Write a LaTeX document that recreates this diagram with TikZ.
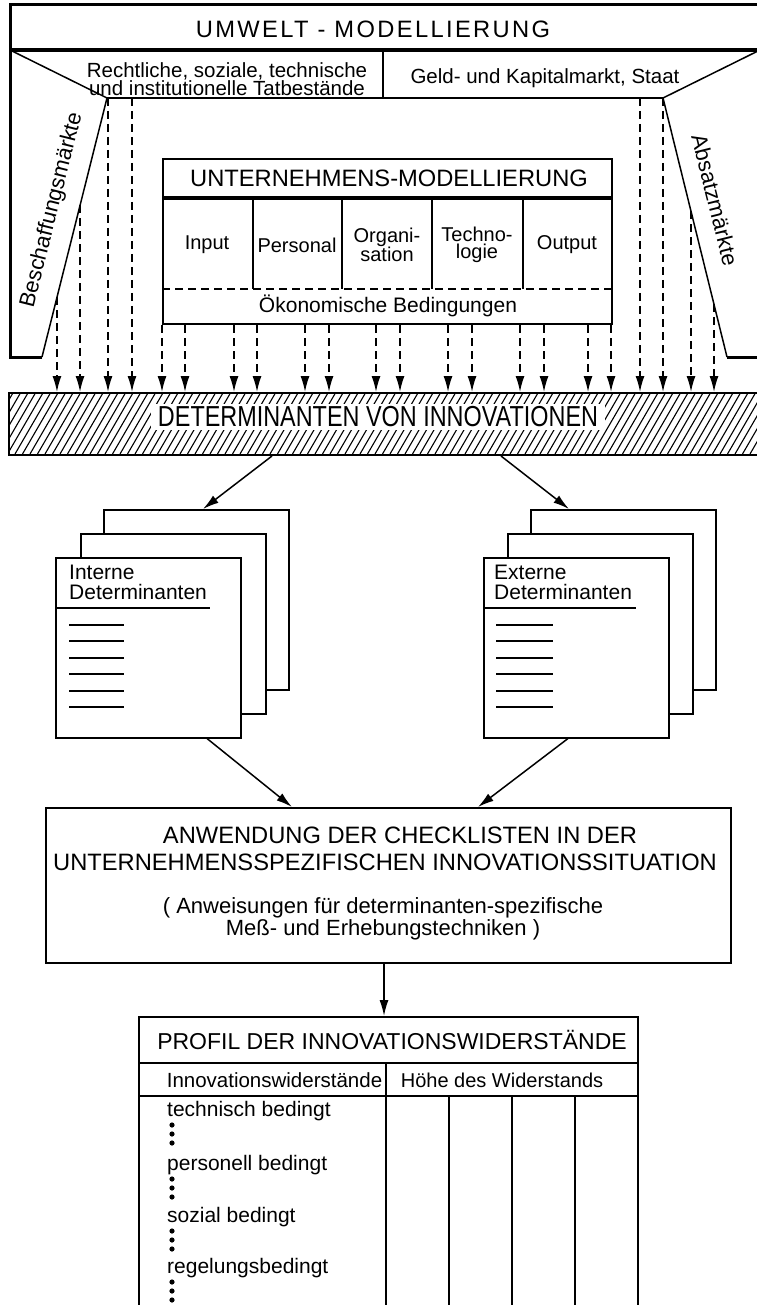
\documentclass[tikz,border=0pt]{standalone}
\usepackage{fontspec}
\setmainfont{Liberation Sans}
\newfontfamily\condfont[FakeStretch=0.81]{Liberation Sans}
\newfontfamily\widefont[LetterSpace=10]{Liberation Sans}
\usetikzlibrary{arrows.meta,calc,positioning}

\begin{document}
\begin{tikzpicture}[x=1pt,y=-1pt,
    thinline/.style={line width=1.5pt},
    heavyline/.style={line width=3pt},
    dasharrow/.style={line width=1.5pt,dash pattern=on 8pt off 5pt,-{Latex[length=16pt,width=9pt]}},
    fullarrow/.style={line width=1.5pt,-{Latex[length=16pt,width=9pt]}},
    boxnode/.style={draw,line width=1.5pt,inner sep=0pt,anchor=north west},
    page/.style={boxnode,fill=white,minimum width=185pt,minimum height=180pt},
    lbl/.style={inner sep=0pt,font=\fontsize{21}{18}\selectfont},
    caps/.style={inner sep=0pt,font=\fontsize{23.7}{27}\selectfont}]

    \useasboundingbox (0,0) rectangle (756,1305);

    % Umwelt-Rahmen
    \draw[heavyline] (42,357) -- (10,357) -- (10,5) -- (770,5);
    \draw[heavyline] (727,357) -- (770,357);
    \draw[line width=4pt] (10,50) -- (770,50);
    \node[caps,font=\widefont\fontsize{23.7}{27}\selectfont] (umwelt) at (373,29) {UMWELT - MODELLIERUNG};

    % Trapez mit Maerkten
    \coordinate (lt) at (10,50);
    \coordinate (li) at (107,98);
    \coordinate (lb) at (42,357);
    \coordinate (rt) at (760,50);
    \coordinate (ri) at (663,98);
    \coordinate (rb) at (727,357);
    \coordinate (dv) at (383,98);
    \draw[thinline] (lt) -- (li) -- (lb);
    \draw[thinline] (rt) -- (ri) -- (rb);
    \draw[line width=2.5pt] (li) -- (ri);
    \draw[thinline] (dv |- lt) -- (dv); % Trennstrich
    \node[lbl,align=center,font=\fontsize{20.5}{18}\selectfont] (recht) at (227,79) {Rechtliche, soziale, technische\\und institutionelle Tatbestände};
    \node[lbl,font=\fontsize{20.5}{18}\selectfont] (geld) at (545,78) {Geld- und Kapitalmarkt, Staat};
    \node[lbl,rotate=76,font=\fontsize{22}{24}\selectfont] (beschaff) at (52,210) {Beschaffungsmärkte};
    \node[lbl,rotate=-76,font=\fontsize{22}{24}\selectfont] (absatz) at (715,200) {Absatzmärkte};

    % Unternehmens-Modellierung
    \node[boxnode,line width=2pt,minimum width=449pt,minimum height=165pt] (unt) at (162,158) {};
    \draw[line width=4pt] ($(unt.north west)+(0,40)$) -- ($(unt.north east)+(0,40)$);
    \node[caps] (unttitle) at (389,178) {UNTERNEHMENS-MODELLIERUNG};
    \foreach \x in {253,342,432,523}
        \draw[thinline] (\x,198) -- (\x,289);
    \draw[thinline,dash pattern=on 8pt off 5pt] (unt.west |- 0,289) -- (unt.east |- 0,289);
    \foreach \x/\t in {207/Input,297/Personal,387/{Organi-\\sation},477/{Techno-\\logie},567/Output}
        \node[lbl,align=center,font=\fontsize{20}{17}\selectfont] (col\x) at (\x,245) {\t};
    \node[lbl] (oekon) at (388,306) {Ökonomische Bedingungen};

    % Determinanten-Balken, schraffiert
    \begin{scope}
        \clip (8,392) rectangle (768,454);
        \foreach \i in {-6,...,102}
            \draw[line width=1.1pt] (\i*7.5,454) -- ++(36,-62);
    \end{scope}
    \node[boxnode,line width=2pt,minimum width=760pt,minimum height=62pt] (band) at (8,392) {};
    \node[fill=white,inner xsep=7pt,inner ysep=3pt,font=\condfont\fontsize{28.9}{30}\selectfont] (det) at (378,417) {DETERMINANTEN VON INNOVATIONEN};

    % gestrichelte Pfeile
    \foreach \x in {108,132,640,663}
        \draw[dasharrow] (li -| \x,0) -- (band.north -| \x,0);
    \foreach \x in {162,185,234,257,305,329,376,400,448,472,520,544,588,611}
        \draw[dasharrow] (unt.south -| \x,0) -- (band.north -| \x,0);
    \foreach \t in {0.415,0.77} {
        \coordinate (ls) at ($(li)!\t!(lb)$);
        \draw[dasharrow] (ls) -- (ls |- band.north);
    }
    \foreach \t in {0.4375,0.797} {
        \coordinate (rs) at ($(ri)!\t!(rb)$);
        \draw[dasharrow] (rs) -- (rs |- band.north);
    }

    % Checklisten links
    \node[page] (ib) at (103,509) {};
    \node[page] (im) at (80,533) {};
    \node[page] (if) at (55,557) {};
    \node[lbl,align=left,anchor=north west,font=\fontsize{21}{20}\selectfont] (itext) at ($(if.north west)+(14,8)$) {Interne\\Determinanten};
    \draw[thinline] ($(if.north west)+(0,51)$) -- ++(155,0);
    \foreach \y in {68,84,101,117,134,150}
        \draw[thinline] ($(if.north west)+(14,\y)$) -- ++(55,0);

    % Checklisten rechts
    \node[page] (eb) at (530,509) {};
    \node[page] (em) at (507,533) {};
    \node[page] (ef) at (483,557) {};
    \node[lbl,align=left,anchor=north west,font=\fontsize{21}{20}\selectfont] (etext) at ($(ef.north west)+(11,8)$) {Externe\\Determinanten};
    \draw[thinline] ($(ef.north west)+(0,51)$) -- ++(153,0);
    \foreach \y in {68,84,101,117,134,150}
        \draw[thinline] ($(ef.north west)+(13,\y)$) -- ++(57,0);

    % Pfeile zu den Checklisten
    \draw[fullarrow] (band.south -| 272,0) -- (ib.north -| 203,0);
    \draw[fullarrow] (band.south -| 501,0) -- (eb.north -| 569,0);

    % Anwendung
    \node[boxnode,minimum width=685pt,minimum height=155pt] (anw) at (45,807) {};
    \draw[fullarrow] (if.south -| 207,0) -- (anw.north -| 292,0);
    \draw[fullarrow] (ef.south -| 568,0) -- (anw.north -| 478,0);
    \node[caps] (anw1) at (400,835) {ANWENDUNG DER CHECKLISTEN IN DER};
    \node[caps] (anw2) at (385,862) {UNTERNEHMENSSPEZIFISCHEN INNOVATIONSSITUATION};
    \node[lbl,align=center,font=\fontsize{22}{20}\selectfont] (anw3) at (383,919) {( Anweisungen für determinanten-spezifische\\Meß- und Erhebungstechniken )};

    % Profil
    \node[boxnode,minimum width=499pt,minimum height=300pt] (prof) at (138,1016) {};
    \draw[fullarrow] (anw.south -| 384,0) -- (prof.north -| 384,0);
    \node[caps,font=\fontsize{23}{26}\selectfont] (proftitle) at (392,1040) {PROFIL DER INNOVATIONSWIDERSTÄNDE};
    \draw[thinline] (prof.west |- 0,1063) -- (prof.east |- 0,1063);
    \draw[thinline] (prof.west |- 0,1096) -- (prof.east |- 0,1096);
    \draw[thinline] (386,1063) -- (386,1320);
    \foreach \x in {449,512,575}
        \draw[thinline] (\x,1096) -- (\x,1320);
    \node[lbl,font=\fontsize{20.5}{20}\selectfont] (hwid) at (274.5,1080) {Innovationswiderstände};
    \node[lbl,font=\fontsize{20}{20}\selectfont] (hhoehe) at (502,1080) {Höhe des Widerstands};
    \foreach \y/\t in {1111/technisch bedingt,1165/personell bedingt,1217/sozial bedingt,1268/regelungsbedingt} {
        \node[lbl,anchor=west] (row\y) at (167,\y) {\t};
        \foreach \d in {14,23,32}
            \fill (172,\y+\d) circle (2.6pt);
    }
\end{tikzpicture}
\end{document}
